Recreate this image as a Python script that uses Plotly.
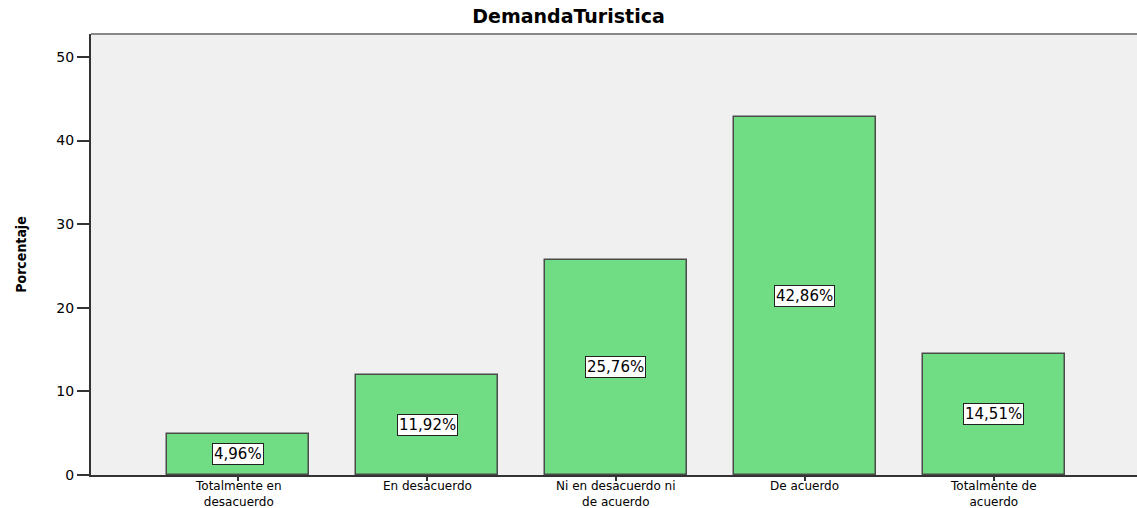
import plotly.graph_objects as go

categories = ["Totalmente en<br>desacuerdo", "En desacuerdo", "Ni en desacuerdo ni<br>de acuerdo", "De acuerdo", "Totalmente de<br>acuerdo"]
values = [4.96, 11.92, 25.76, 42.86, 14.51]
labels = ["4,96%", "11,92%", "25,76%", "42,86%", "14,51%"]
yticks = [0, 10, 20, 30, 40, 50]

FONT = "DejaVu Sans, Verdana, Arial"

fig = go.Figure()
fig.add_trace(go.Bar(
    x=list(range(len(categories))), y=values,
    width=0.751,
    marker=dict(color="#70DC84", line=dict(color="#4a4a4a", width=1.5)),
    hoverinfo="skip",
))

# value labels in white boxes, centred at half the bar height
for i, (v, t) in enumerate(zip(values, labels)):
    fig.add_annotation(x=i, y=v / 2, text=t, showarrow=False,
                       font=dict(family=FONT, size=15, color="black"),
                       bgcolor="white", bordercolor="#222222", borderwidth=1, borderpad=1)

# category labels
for i, cat in enumerate(categories):
    fig.add_annotation(x=i, xref="x", y=0, yref="paper", text=cat, showarrow=False,
                       yanchor="top", yshift=-3, borderpad=0,
                       font=dict(family=FONT, size=12, color="black"))

fig.add_shape(type="line", xref="paper", yref="paper", x0=0, x1=1, y0=1, y1=1,
              line=dict(color="#888888", width=2))

fig.update_layout(
    width=1137, height=508,
    margin=dict(l=91, r=0, t=34, b=33),
    paper_bgcolor="white", plot_bgcolor="#F0F0F0",
    showlegend=False,
    title=dict(text="<b>DemandaTuristica</b>", x=0.5, xanchor="center", y=0.967, yanchor="middle",
               font=dict(family=FONT, size=19, color="black")),
    font=dict(family=FONT, size=13, color="black"),
    xaxis=dict(range=[-0.778, 4.757], tickmode="array", tickvals=list(range(len(categories))),
               showticklabels=False, showline=True, linecolor="#333333", linewidth=2,
               ticks="outside", ticklen=4, tickwidth=2, tickcolor="#333333",
               showgrid=False, zeroline=False, automargin=False),
    yaxis=dict(range=[0, 52.75], tickmode="array", tickvals=yticks,
               showline=True, linecolor="#333333", linewidth=2,
               ticks="outside", ticklen=12, tickwidth=2, tickcolor="#333333",
               showgrid=False, zeroline=False, automargin=False,
               title=dict(text="<b>Porcentaje</b>", standoff=26,
                          font=dict(family="DejaVu Sans Condensed, Liberation Sans Narrow, Arial Narrow", size=14)),
               tickfont=dict(family=FONT, size=14)),
    bargap=0,
)

fig.write_html("out.html", config={"displayModeBar": False},
               post_script="document.body.style.margin='0';")
